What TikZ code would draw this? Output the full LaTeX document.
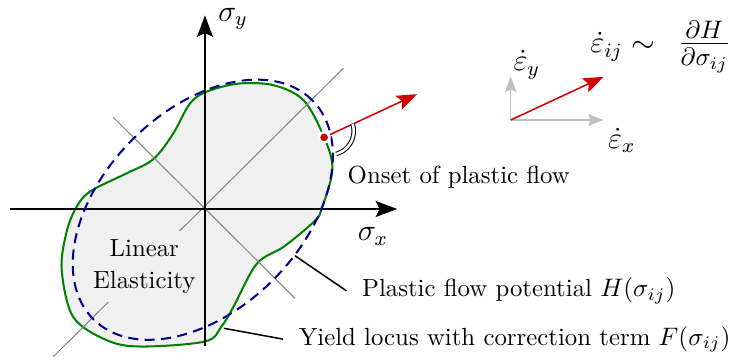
\documentclass[tikz,border=0pt]{standalone}
\usetikzlibrary{arrows.meta}
\definecolor{locusgreen}{RGB}{0,128,0}
\definecolor{potentialblue}{RGB}{0,0,140}
\definecolor{flowred}{RGB}{210,0,0}
\begin{document}
\begin{tikzpicture}[
        axis/.style={semithick, -{Stealth[length=8.5pt, width=6.3pt, inset=1.5pt]}},
        diag/.style={gray, thin},
        locus/.style={thick, locusgreen, fill=gray!12},
        potential/.style={thick, potentialblue, dash pattern=on 4pt off 2.5pt},
        flow/.style={semithick, flowred, -{Stealth[length=8pt, width=6pt, inset=1.5pt]}},
        rateaxis/.style={semithick, gray!50, -{Stealth[length=6pt, width=4.5pt, inset=1pt]}},
        dot/.style={circle, fill=flowred, draw=white, line width=1pt, inner sep=0pt, minimum size=4.2pt},
        anglemark/.style={thin, double, double distance=1pt},
        zone/.style={fill=gray!12, font=\fontsize{9.8}{12}\selectfont},
        annot/.style={inner xsep=6pt, inner ysep=0pt, font=\fontsize{9.8}{12}\selectfont},
        leader/.style={semithick},
        mathlabel/.style={font=\large, inner sep=1pt}
    ]
        \useasboundingbox (-2.847,-2.097) rectangle (7.306,2.903);

        % Yield locus (filled)
        \draw[locus] plot[smooth cycle, tension=0.55] coordinates {
            (1.62,0.0) (1.77,0.55) (1.655,0.995) (1.37,1.51) (0.95,1.72) (0.45,1.74)
            (0.0,1.62) (-0.22,1.45) (-0.44,1.05) (-0.72,0.69) (-1.10,0.49) (-1.60,0.24)
            (-1.80,0.0) (-1.93,-0.35) (-1.99,-0.85) (-1.83,-1.50) (-1.37,-1.82) (-0.90,-1.91)
            (0.0,-1.84) (0.23,-1.63) (0.40,-1.35) (0.72,-0.76) (1.10,-0.52) (1.52,-0.17)};

        % Axes
        \coordinate (xstart) at (-2.71,0);
        \coordinate (xend) at (2.67,0);
        \coordinate (ystart) at (0,-1.90);
        \coordinate (yend) at (0,2.69);
        \draw[diag] (-2.107,-2.051) -- (1.921,1.954);
        \draw[diag] (-1.273,1.273) -- (1.25,-1.24);
        \draw[axis] (xstart) -- (xend);
        \draw[axis] (ystart) -- (yend);
        \node[mathlabel] (sigmay) at (0.39,2.64) {$\sigma_y$};
        \node[mathlabel] (sigmax) at (2.333,-0.385) {$\sigma_x$};

        % Plastic potential
        \draw[potential, rotate around={45:(-0.03,-0.01)}] (-0.03,-0.01) ellipse (2.15 and 1.38);

        % Region labels
        \node[zone] (linear) at (-0.843,-0.537) {Linear};
        \node[zone] (elasticity) at (-0.843,-1.023) {Elasticity};

        % Onset of plastic flow
        \node[dot] (onset) at (1.655,0.995) {};
        \coordinate (flowtip) at (2.945,1.595);
        \draw[flow] (onset) -- (flowtip);
        \draw[anglemark] (1.736,1.083) ++(18:0.33) arc[start angle=18, end angle=-75, radius=0.33];

        % Annotations
        \node[annot, anchor=base west] (onsetlabel) at (1.765,0.361) {Onset of plastic flow};
        \node[annot, anchor=base west] (plasticlabel) at (1.965,-1.218) {Plastic flow potential $H(\sigma_{ij})$};
        \node[annot, anchor=base west] (yieldlabel) at (1.085,-1.889) {Yield locus with correction term $F(\sigma_{ij})$};
        \coordinate (plasticpt) at (1.25,-0.649);
        \coordinate (yieldpt) at (0.264,-1.657);
        \draw[leader] (plasticpt) -- (plasticlabel.west);
        \draw[leader] (yieldpt) -- (yieldlabel.west);

        % Strain rate direction
        \coordinate (rateorigin) at (4.246,1.236);
        \coordinate (ratex) at (5.532,1.236);
        \coordinate (ratey) at (4.246,1.838);
        \coordinate (ratetip) at (5.536,1.836);
        \draw[rateaxis] (rateorigin) -- (ratex);
        \draw[rateaxis] (rateorigin) -- (ratey);
        \draw[flow] (rateorigin) -- (ratetip);
        \node[mathlabel] (epsy) at (4.47,2.0) {$\dot\varepsilon_y$};
        \node[mathlabel] (epsx) at (5.79,0.95) {$\dot\varepsilon_x$};
        \node[mathlabel, inner sep=0pt, anchor=base west] (flowrule) at (5.347,2.17)
            {$\dot\varepsilon_{ij} \sim$\hspace{9pt}{\Large$\frac{\partial H}{\partial\sigma_{ij}}$}};
\end{tikzpicture}
\end{document}
